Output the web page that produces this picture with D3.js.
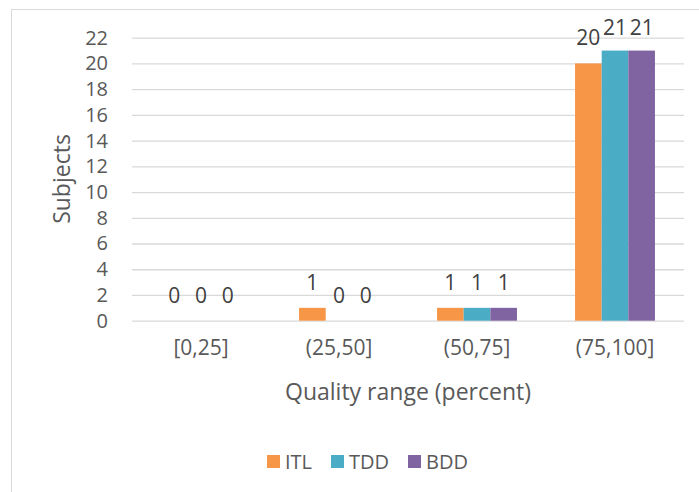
<!DOCTYPE html>
<html>
<head>
<meta charset="utf-8">
<script src="https://cdn.jsdelivr.net/npm/d3@7"></script>
<style>
  html, body { margin: 0; padding: 0; background: #fff; }
  svg { display: block; font-family: "Open Sans", sans-serif; }
</style>
</head>
<body>
<svg id="chart" width="699" height="492"></svg>
<script>
// Subjects per quality range, one array per approach
const categories = ["[0,25]", "(25,50]", "(50,75]", "(75,100]"];
const seriesNames = ["ITL", "TDD", "BDD"];
const itl = [0, 1, 1, 20];
const tdd = [0, 0, 1, 21];
const bdd = [0, 0, 1, 21];
const yTicks = [0, 2, 4, 6, 8, 10, 12, 14, 16, 18, 20, 22];
const colors = ["#F79646", "#4BACC6", "#8064A2"];

const seriesValues = [itl, tdd, bdd];
const rows = categories.map((c, i) => ({
  category: c,
  values: seriesNames.map((s, j) => ({ series: s, value: seriesValues[j][i] }))
}));

const svg = d3.select("#chart");
const margin = { left: 132, right: 15, top: 37.7, bottom: 171.3 };
const W = 699, H = 492;
const plotW = W - margin.left - margin.right;
const plotH = H - margin.top - margin.bottom;

// chart area frame
svg.append("rect")
  .attr("x", 11.5).attr("y", 9.5)
  .attr("width", 760).attr("height", 560)
  .attr("fill", "#fff").attr("stroke", "#d9d9d9").attr("stroke-width", 1);

const g = svg.append("g").attr("transform", `translate(${margin.left},${margin.top})`);

const x = d3.scaleBand().domain(categories).range([0, plotW]).paddingInner(0).paddingOuter(0);
const y = d3.scaleLinear().domain([0, 22]).range([plotH, 0]);
const inner = d3.scaleBand().domain(seriesNames)
  .range([0, x.bandwidth()]).paddingInner(0).paddingOuter(1.09);

// horizontal gridlines
const yAxis = d3.axisLeft(y).tickValues(yTicks).tickSize(-plotW).tickPadding(24).tickFormat(d3.format("d"));
const ya = g.append("g").call(yAxis);
ya.select(".domain").remove();
ya.selectAll(".tick line").attr("stroke", "#d9d9d9").attr("stroke-width", 1.3);
ya.selectAll(".tick text")
  .attr("fill", "#595959").style("font-size", "20px").style("font-family", "Open Sans");

// category labels
const xAxis = d3.axisBottom(x).tickSize(0).tickPadding(19);
const xa = g.append("g").attr("transform", `translate(0,${plotH})`).call(xAxis);
xa.select(".domain").remove();
xa.selectAll(".tick text")
  .attr("fill", "#595959").style("font-size", "21px").style("font-family", "Open Sans");

// bars
const groups = g.selectAll(".grp").data(rows).join("g")
  .attr("class", "grp")
  .attr("transform", d => `translate(${x(d.category)},0)`);

groups.selectAll("rect").data(d => d.values).join("rect")
  .attr("x", d => inner(d.series))
  .attr("width", inner.bandwidth())
  .attr("y", d => y(d.value))
  .attr("height", d => plotH - y(d.value))
  .attr("fill", (d, i) => colors[i]);

// value labels above each bar
groups.selectAll("text.val").data(d => d.values).join("text")
  .attr("class", "val")
  .attr("x", d => inner(d.series) + inner.bandwidth() / 2)
  .attr("y", d => y(d.value) - (d.value >= 21 ? 15.5 : 18))
  .attr("text-anchor", "middle")
  .attr("fill", "#404040")
  .style("font-size", "21px")
  .text(d => d.value);

// axis titles
svg.append("text")
  .attr("transform", "translate(70,179) rotate(-90)")
  .attr("text-anchor", "middle")
  .attr("fill", "#595959")
  .style("font-size", "23px")
  .text("Subjects");

svg.append("text")
  .attr("x", 408).attr("y", 400)
  .attr("text-anchor", "middle")
  .attr("fill", "#595959")
  .style("font-size", "23px")
  .text("Quality range (percent)");

// legend
const legendItems = [
  { name: "ITL", sx: 267, tx: 285 },
  { name: "TDD", sx: 331, tx: 349 },
  { name: "BDD", sx: 408, tx: 426 }
];
const lg = svg.append("g");
lg.selectAll("rect").data(legendItems).join("rect")
  .attr("x", d => d.sx).attr("y", 455)
  .attr("width", 13).attr("height", 13)
  .attr("fill", (d, i) => colors[i]);
lg.selectAll("text").data(legendItems).join("text")
  .attr("x", d => d.tx).attr("y", 469)
  .attr("fill", "#595959")
  .style("font-size", "20px")
  .text(d => d.name);
</script>
</body>
</html>
